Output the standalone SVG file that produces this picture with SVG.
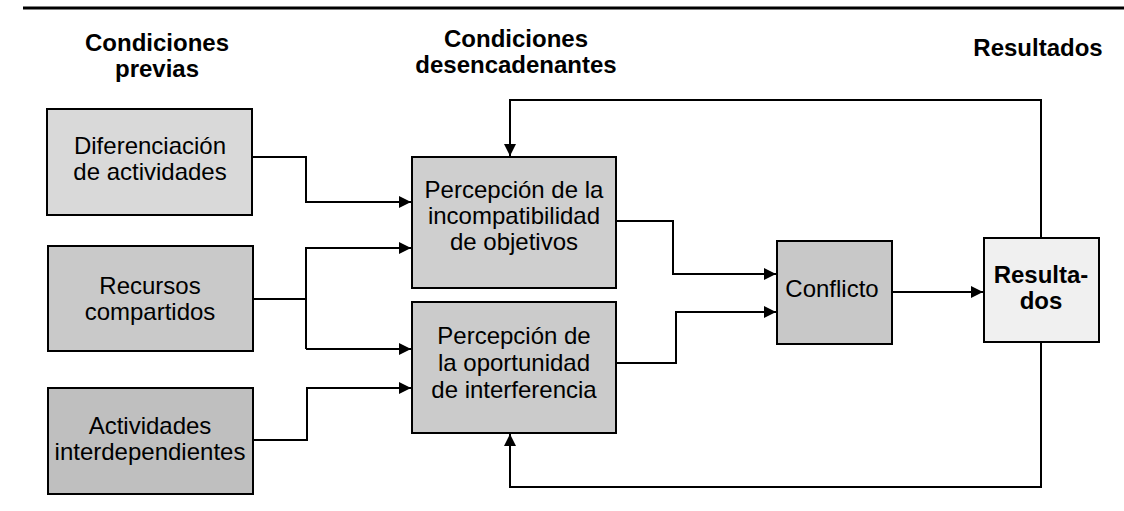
<svg xmlns="http://www.w3.org/2000/svg" width="1124" height="511" viewBox="0 0 1124 511">
<style>
  .box { stroke:#000; stroke-width:2; }
  .t { font-family:"Liberation Sans", Arial, sans-serif; font-size:24px; fill:#000; text-anchor:middle; }
  .h { font-family:"Liberation Sans", Arial, sans-serif; font-size:24px; font-weight:bold; fill:#000; text-anchor:middle; }
  .c { fill:none; stroke:#000; stroke-width:2; }
</style>
<defs>
  <marker id="ah" viewBox="0 0 12 12" refX="12" refY="6" markerWidth="12" markerHeight="12" markerUnits="userSpaceOnUse" orient="auto">
    <path d="M0,0 L12,6 L0,12 Z" fill="#000"/>
  </marker>
</defs>
<rect width="1124" height="511" fill="#fff"/>
<line x1="23" y1="8" x2="1124" y2="8" stroke="#000" stroke-width="3"/>

<g id="headers">
  <text class="h" x="157" y="51">Condiciones</text>
  <text class="h" x="157" y="77">previas</text>
  <text class="h" x="516" y="47">Condiciones</text>
  <text class="h" x="516" y="73">desencadenantes</text>
  <text class="h" x="1038" y="56">Resultados</text>
</g>

<g id="connectors">
  <polyline class="c" points="252,157 306,157 306,202 411,202" marker-end="url(#ah)"/>
  <polyline class="c" points="253,299 306,299"/>
  <polyline class="c" points="306,349 306,248 411,248" marker-end="url(#ah)"/>
  <polyline class="c" points="306,349 411,349" marker-end="url(#ah)"/>
  <polyline class="c" points="253,440 307,440 307,388 411,388" marker-end="url(#ah)"/>
  <polyline class="c" points="616,221 673,221 673,274 776,274" marker-end="url(#ah)"/>
  <polyline class="c" points="616,363 676,363 676,312 776,312" marker-end="url(#ah)"/>
  <line class="c" x1="892" y1="292" x2="983" y2="292" marker-end="url(#ah)"/>
  <polyline class="c" points="1041,238 1041,100 510,100 510,156" marker-end="url(#ah)"/>
  <polyline class="c" points="1041,342 1041,487 510,487 510,434" marker-end="url(#ah)"/>
</g>

<g id="n-diferenciacion">
  <rect class="box" x="47" y="109" width="205" height="106" fill="#d9d9d9"/>
  <text class="t" x="150" y="154">Diferenciación</text>
  <text class="t" x="150" y="180">de actividades</text>
</g>
<g id="n-recursos">
  <rect class="box" x="48" y="246" width="205" height="105" fill="#c9c9c9"/>
  <text class="t" x="150" y="294">Recursos</text>
  <text class="t" x="150" y="320">compartidos</text>
</g>
<g id="n-actividades">
  <rect class="box" x="48" y="388" width="205" height="106" fill="#bfbfbf"/>
  <text class="t" x="150" y="434">Actividades</text>
  <text class="t" x="150" y="460">interdependientes</text>
</g>
<g id="n-incompatibilidad">
  <rect class="box" x="412" y="157" width="204" height="131" fill="#cfcfcf"/>
  <text class="t" x="514" y="198">Percepción de la</text>
  <text class="t" x="514" y="224">incompatibilidad</text>
  <text class="t" x="514" y="250">de objetivos</text>
</g>
<g id="n-oportunidad">
  <rect class="box" x="412" y="302" width="204" height="131" fill="#cbcbcb"/>
  <text class="t" x="514" y="344">Percepción de</text>
  <text class="t" x="514" y="371">la oportunidad</text>
  <text class="t" x="514" y="398">de interferencia</text>
</g>
<g id="n-conflicto">
  <rect class="box" x="777" y="241" width="115" height="103" fill="#c8c8c8"/>
  <text class="t" x="832" y="297">Conflicto</text>
</g>
<g id="n-resultados">
  <rect class="box" x="984" y="238" width="115" height="104" fill="#f0f0f0"/>
  <text class="h" x="1041" y="283">Resulta-</text>
  <text class="h" x="1041" y="309">dos</text>
</g>
</svg>
